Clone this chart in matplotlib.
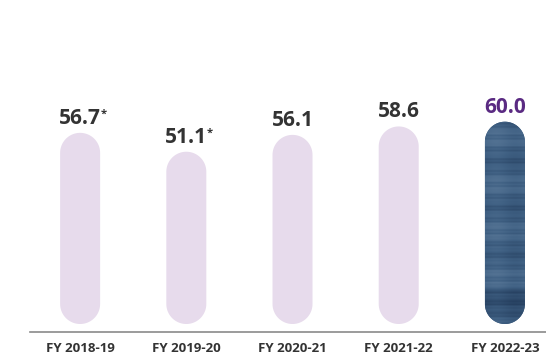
import numpy as np
import matplotlib
matplotlib.use("Agg")
import matplotlib.pyplot as plt
from matplotlib.patches import Polygon
from matplotlib.colors import LinearSegmentedColormap

plt.rcParams['font.family'] = ['Open Sans', 'DejaVu Sans']

# data
years = ['FY 2018-19', 'FY 2019-20', 'FY 2020-21', 'FY 2021-22', 'FY 2022-23']
values = [56.7, 51.1, 56.1, 58.6, 60.0]
starred = [True, True, False, False, False]

W, H = 546, 361
fig = plt.figure(figsize=(W / 100, H / 100), dpi=100)
ax = fig.add_axes([30 / W, 29 / H, 516 / W, 332 / H])
x0, x1 = -0.472, 4.387
y0, y1 = -2.37, 96.1
ax.set_xlim(x0, x1)
ax.set_ylim(y0, y1)
ax.axis('off')

# baseline
ax.axhline(y0, color='#8a8a8a', lw=1.2, clip_on=False)

# units per pixel, so the pill ends come out round
xpp = (x1 - x0) / 516
ypp = (y1 - y0) / 332
bw = 40 * xpp
rx = bw / 2
ry = 20 * ypp


def pill(xc, top):
    a = np.linspace(0, np.pi, 40)
    up = np.column_stack([xc + rx * np.cos(a), top - ry + ry * np.sin(a)])
    dn = np.column_stack([xc - rx * np.cos(a), ry - ry * np.sin(a)])
    return np.vstack([up, dn])


bars = []
for i, v in enumerate(values):
    last = i == len(values) - 1
    p = Polygon(pill(i, v), closed=True,
                fc='#3d5c7e' if last else '#e7dbec', ec='none')
    ax.add_patch(p)
    bars.append(p)

# streaky blue fill for the latest year
rows = np.arange(120)
streak = (0.5 + 0.07 * np.sin(rows * 0.9) + 0.06 * np.sin(rows * 2.7)
          + 0.08 * np.cos(rows * 0.23) - 0.15 * (rows < 20))
cols = np.linspace(0, 1, 12)
tex = streak[:, None] + 0.05 * np.sin(cols * 6)[None, :]
k = len(values) - 1
im = ax.imshow(tex, cmap=LinearSegmentedColormap.from_list(
    'bl', ['#1c3352', '#3f6083', '#7490ad']), vmin=0, vmax=1,
    extent=(k - bw / 2, k + bw / 2, 0, values[k]), aspect='auto',
    origin='lower', interpolation='bilinear', zorder=2)
im.set_clip_path(bars[k])

# value labels
for i, v in enumerate(values):
    last = i == len(values) - 1
    t = ax.annotate(f"{v:.1f}", (i, v), xytext=(0, 3), textcoords='offset points',
                    ha='center', va='bottom', fontsize=15, fontweight='bold',
                    color='#5a2a82' if last else '#333333')
    if starred[i]:
        ax.annotate('*', xy=(1, 1), xycoords=t, xytext=(-0.5, -1),
                    textcoords='offset points', ha='left', va='top',
                    fontsize=8, fontweight='bold', color='#333333')

# year labels
for i, y in enumerate(years):
    ax.text(i, y0 - 17 * ypp, y, ha='center', va='center',
            fontsize=9.5, fontweight='bold', color='#333333')

fig.savefig('out.png', dpi=100)
